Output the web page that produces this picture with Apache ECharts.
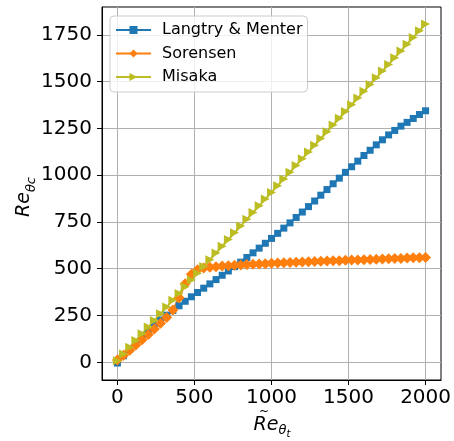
<!DOCTYPE html>
<html>
<head>
<meta charset="utf-8">
<script src="https://cdn.jsdelivr.net/npm/echarts@6/dist/echarts.min.js"></script>
<style>
  html, body { margin: 0; padding: 0; background: #ffffff; }
  #chart { width: 454px; height: 441px; }
</style>
</head>
<body>
<div id="chart"></div>
<script>
// Transition-onset momentum thickness Reynolds number vs. the free-stream value
const reThetaT = [0, 40, 80, 120, 160, 200, 240, 280, 320, 360, 400, 440, 480, 520, 560, 600,
  640, 680, 720, 760, 800, 840, 880, 920, 960, 1000, 1040, 1080, 1120, 1160, 1200, 1240, 1280,
  1320, 1360, 1400, 1440, 1480, 1520, 1560, 1600, 1640, 1680, 1720, 1760, 1800, 1840, 1880,
  1920, 1960, 2000];

const langtryMenter = [-4, 35, 72, 106, 139, 169, 198, 226, 252, 277, 302, 326, 350, 373, 396,
  419, 442, 465, 488, 511, 535, 560, 585, 610, 636, 662, 689, 717, 745, 774, 803, 832, 862, 893,
  923, 954, 984, 1015, 1045, 1075, 1105, 1133, 1162, 1189, 1215, 1239, 1262, 1282, 1303, 1324, 1344];

const sorensen = [12, 38, 65, 93, 121, 149, 178, 208, 240, 280, 345, 420, 470, 495, 504, 508,
  511, 514, 516, 518, 520, 522, 524, 525, 527, 529, 530, 532, 533, 534, 536, 537, 538, 540, 541,
  542, 543, 545, 546, 547, 548, 549, 551, 552, 553, 554, 555, 557, 558, 559, 560];

const misaka = [8, 44, 80, 116, 152, 188, 224, 260, 296, 332, 368, 404, 440, 476, 512, 548, 584,
  620, 656, 692, 728, 764, 800, 836, 872, 908, 944, 980, 1016, 1052, 1088, 1124, 1160, 1196,
  1232, 1268, 1304, 1340, 1376, 1412, 1448, 1484, 1520, 1556, 1592, 1628, 1664, 1700, 1736,
  1772, 1808];

const seriesNames = ['Langtry & Menter', 'Sorensen', 'Misaka'];
const seriesColors = ['#1f77b4', '#ff7f0e', '#bcbd22'];
const xTicks = [0, 500, 1000, 1500, 2000];
const yTicks = [0, 250, 500, 750, 1000, 1250, 1500, 1750];

const pairs = (xs, ys) => xs.map((x, i) => [x, ys[i]]);
const plain = v => String(v);
const FONT = 'DejaVu Sans';

const chart = echarts.init(document.getElementById('chart'), null, { renderer: 'canvas' });

const axisCommon = {
  type: 'value',
  axisLine: { show: true, onZero: false, lineStyle: { color: '#000', width: 1 } },
  splitLine: { show: true, lineStyle: { color: '#b0b0b0', width: 1 } },
};

chart.setOption({
  animation: false,
  backgroundColor: '#ffffff',
  grid: {
    left: 102, right: 13, top: 7, bottom: 61,
    show: true, borderColor: '#000', borderWidth: 1,
    backgroundColor: 'transparent',
    outerBoundsMode: 'none'
  },
  xAxis: Object.assign({}, axisCommon, {
    min: -100, max: 2100, minInterval: 500, maxInterval: 500,
    axisTick: { show: true, length: 5, lineStyle: { color: '#000' }, customValues: xTicks },
    axisLabel: { customValues: xTicks, formatter: plain, margin: 8, fontSize: 20, color: '#000', fontFamily: FONT }
  }),
  yAxis: Object.assign({}, axisCommon, {
    min: -94.6, max: 1898.6, minInterval: 250, maxInterval: 250,
    axisTick: { show: true, length: 5, lineStyle: { color: '#000' }, customValues: yTicks },
    axisLabel: { customValues: yTicks, formatter: plain, margin: 10, fontSize: 20, color: '#000', fontFamily: FONT }
  }),
  legend: {
    orient: 'vertical', left: 110, top: 16,
    padding: [6, 5, 7, 5], itemGap: 7.5, itemWidth: 35, itemHeight: 10,
    backgroundColor: 'rgba(255,255,255,0.8)', borderColor: '#cccccc', borderWidth: 1, borderRadius: 4,
    textStyle: { fontSize: 16, color: '#000', fontFamily: FONT, padding: [0, 0, 0, 6] },
    data: seriesNames
  },
  series: [
    {
      name: seriesNames[0], type: 'line', data: pairs(reThetaT, langtryMenter),
      symbol: 'rect', symbolSize: 7, showSymbol: true,
      lineStyle: { width: 2, color: seriesColors[0] }, itemStyle: { color: seriesColors[0] },
      emphasis: { disabled: true }
    },
    {
      name: seriesNames[1], type: 'line', data: pairs(reThetaT, sorensen),
      symbol: 'diamond', symbolSize: 11, showSymbol: true,
      lineStyle: { width: 2, color: seriesColors[1] }, itemStyle: { color: seriesColors[1] },
      emphasis: { disabled: true }
    },
    {
      name: seriesNames[2], type: 'line', data: pairs(reThetaT, misaka),
      symbol: 'triangle', symbolSize: 9, symbolRotate: -90, showSymbol: true,
      lineStyle: { width: 2, color: seriesColors[2] }, itemStyle: { color: seriesColors[2] },
      emphasis: { disabled: true }
    }
  ],
  graphic: [
    // y-axis title: Re_{θc}
    {
      type: 'text', x: 24, y: 197, rotation: Math.PI / 2,
      style: {
        text: '{a|Re}{b|θc}',
        align: 'center', verticalAlign: 'middle',
        rich: {
          a: { fontSize: 19, fontStyle: 'italic', fontFamily: FONT, fill: '#000', lineHeight: 28 },
          b: { fontSize: 13, fontStyle: 'italic', fontFamily: FONT, fill: '#000', lineHeight: 13, verticalAlign: 'bottom' }
        }
      }
    },
    // x-axis title: Re~_{θ_t}
    {
      type: 'text', x: 272, y: 425,
      style: {
        text: '{a|Re}{b|θ}{c|t}',
        align: 'center', verticalAlign: 'middle',
        rich: {
          a: { fontSize: 19, fontStyle: 'italic', fontFamily: FONT, fill: '#000', lineHeight: 28 },
          b: { fontSize: 13, fontStyle: 'italic', fontFamily: FONT, fill: '#000', lineHeight: 13, verticalAlign: 'bottom', padding: [0, 0, 2, 0] },
          c: { fontSize: 10, fontStyle: 'italic', fontFamily: FONT, fill: '#000', lineHeight: 10, verticalAlign: 'bottom' }
        }
      }
    },
    {
      type: 'text', x: 264, y: 412,
      style: { text: '~', fontSize: 12, fontFamily: FONT, fill: '#000', align: 'center', verticalAlign: 'middle' }
    }
  ]
});
</script>
</body>
</html>
